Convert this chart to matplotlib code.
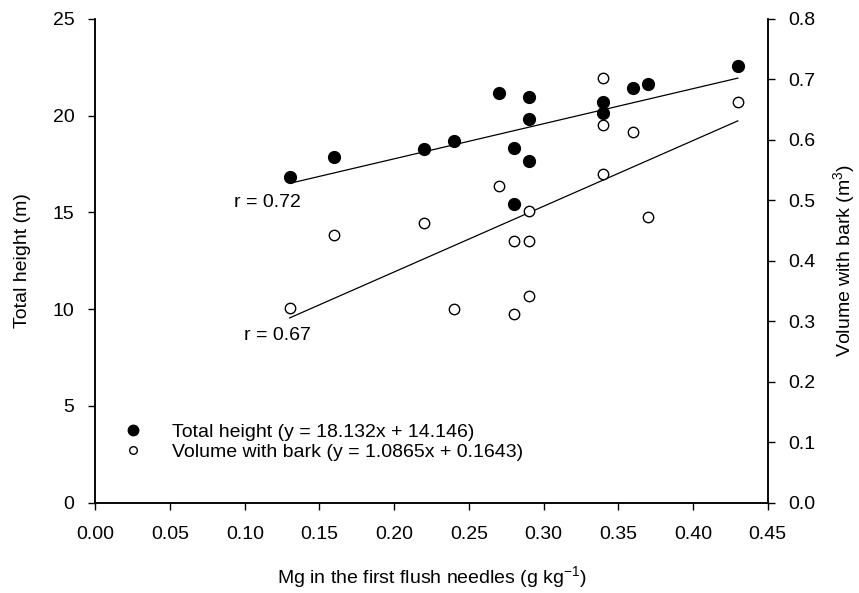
import numpy as np
import matplotlib.pyplot as plt
from matplotlib.lines import Line2D

plt.rcParams['font.family'] = ['Liberation Sans', 'DejaVu Sans']
plt.rcParams['font.size'] = 14
plt.rcParams['mathtext.fontset'] = 'custom'
plt.rcParams['mathtext.rm'] = 'Liberation Sans'
plt.rcParams['mathtext.it'] = 'Liberation Sans:italic'
plt.rcParams['axes.unicode_minus'] = False

# Mg content (g/kg) and total height (m)
mg_height = [0.13, 0.16, 0.22, 0.24, 0.27, 0.28, 0.28, 0.29, 0.29, 0.29,
             0.34, 0.34, 0.36, 0.37, 0.43]
height = [16.85, 17.88, 18.29, 18.71, 21.16, 18.32, 15.45, 20.95, 19.81, 17.67,
          20.72, 20.15, 21.43, 21.62, 22.58]

# Mg content (g/kg) and volume with bark (m3)
mg_volume = [0.13, 0.16, 0.22, 0.24, 0.27, 0.28, 0.28, 0.29, 0.29, 0.29,
             0.34, 0.34, 0.34, 0.36, 0.37, 0.43]
volume = [0.322, 0.442, 0.463, 0.321, 0.523, 0.432, 0.312, 0.482, 0.432, 0.342,
          0.703, 0.625, 0.543, 0.613, 0.473, 0.662]

# fitted lines y = a*x + b (from the legend)
fit_height = (18.132, 14.146)
fit_volume = (1.0865, 0.1643)
fit_range = [0.13, 0.43]

fig = plt.figure(figsize=(8.59, 5.93), dpi=100)
ax = fig.add_axes([0.111, 0.1523, 0.7827, 0.8157])
ax2 = ax.twinx()

ax.plot(mg_height, height, 'o', color='black', ms=8.5, zorder=3)
xf = np.array(fit_range)
ax.plot(xf, fit_height[0] * xf + fit_height[1], color='black', lw=0.9)

ax2.plot(mg_volume, volume, 'o', mfc='white', mec='black', mew=1.0, ms=7.5, zorder=3)
ax2.plot(xf, fit_volume[0] * xf + fit_volume[1], color='black', lw=0.9)

ax.set_xlim(0, 0.45)
ax.set_ylim(0, 25)
ax2.set_ylim(0, 0.8)
ax.set_xticks(np.arange(0, 0.451, 0.05))
ax.set_xticklabels(['%.2f' % v for v in np.arange(0, 0.451, 0.05)])
ax.set_yticks(np.arange(0, 26, 5))
ax2.set_yticks(np.arange(0, 0.81, 0.1))
ax2.set_yticklabels(['%.1f' % v for v in np.arange(0, 0.81, 0.1)])

for a in (ax, ax2):
    a.spines['top'].set_visible(False)
    for s in a.spines.values():
        s.set_linewidth(1.1)
    a.tick_params(direction='out', length=5, width=1.0, labelsize=14, pad=10)
ax.tick_params(axis='x', pad=12)

ax.set_xlabel('Mg in the first flush needles (g kg$^{-1}$)', fontsize=14, labelpad=15)
ax.set_ylabel('Total height (m)', fontsize=14, labelpad=16)
ax2.set_ylabel('Volume with bark (m$^3$)', fontsize=14, labelpad=11)

ax.text(0.115, 15.54, 'r = 0.72', ha='center', va='center', fontsize=14)
ax.text(0.122, 8.66, 'r = 0.67', ha='center', va='center', fontsize=14)

handles = [Line2D([], [], ls='none', marker='o', color='black', ms=7.5),
           Line2D([], [], ls='none', marker='o', mfc='white', mec='black', mew=1.0, ms=5.5)]
labels = ['Total height (y = 18.132x + 14.146)',
          'Volume with bark (y = 1.0865x + 0.1643)']
ax2.legend(handles, labels, loc='lower left', bbox_to_anchor=(0.008, 0.05),
           frameon=False, fontsize=14, handletextpad=1.25, labelspacing=0.12,
           handlelength=1.5)

fig.savefig('out.png', dpi=100)
